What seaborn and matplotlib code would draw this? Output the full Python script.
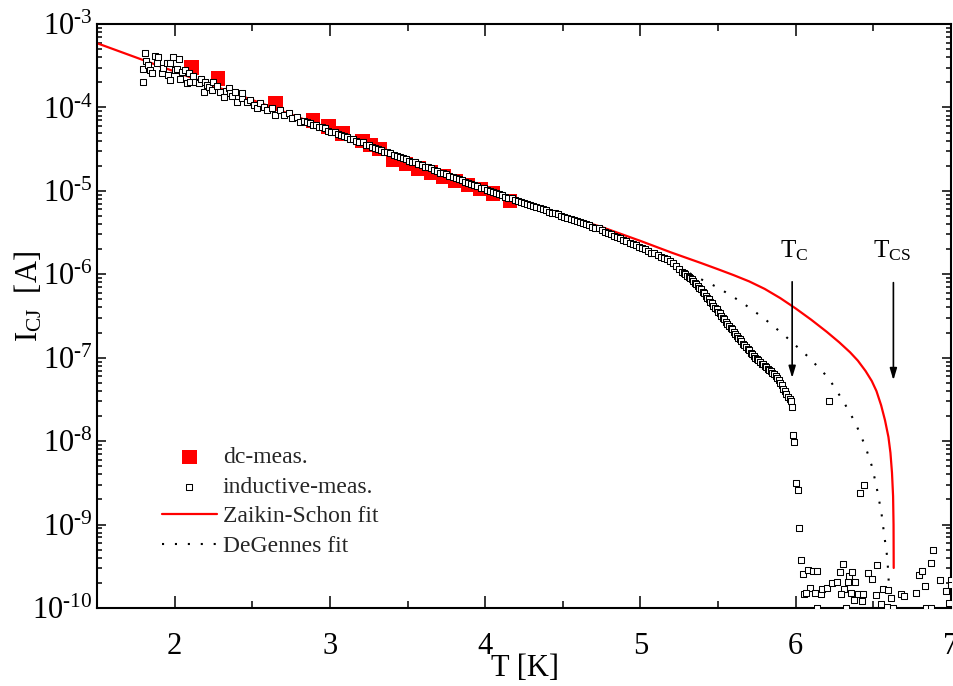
import numpy as np
import matplotlib
matplotlib.use("Agg")
import matplotlib.pyplot as plt
import seaborn as sns
from matplotlib.ticker import LogLocator, MultipleLocator, NullFormatter, FuncFormatter

# ---------------------------------------------------------------- data
# dc transport measurement: temperature [K] and log10 of critical current [A]
dc_T = [2.11, 2.28, 2.65, 2.89, 2.99, 3.08, 3.21, 3.26, 3.32, 3.41, 3.49,
        3.57, 3.65, 3.73, 3.81, 3.89, 3.97, 4.05, 4.16]
dc_logI = [-3.52, -3.65, -3.95, -4.16, -4.23, -4.31, -4.40, -4.45, -4.50,
           -4.63, -4.68, -4.73, -4.78, -4.83, -4.88, -4.93, -4.98, -5.03, -5.12]

# inductive measurement: temperature [K] and log10 of critical current [A]
ind_T = [
    1.799, 1.799, 1.810, 1.816, 1.831, 1.842, 1.853, 1.874, 1.885, 1.896,
    1.917, 1.928, 1.949, 1.960, 1.971, 1.971, 1.992, 2.003, 2.014, 2.025,
    2.035, 2.046, 2.068, 2.079, 2.095, 2.100, 2.120, 2.132, 2.154, 2.170,
    2.186, 2.197, 2.208, 2.220, 2.240, 2.250, 2.270, 2.294, 2.315, 2.330,
    2.347, 2.358, 2.370, 2.390, 2.401, 2.434, 2.434, 2.466, 2.487, 2.508,
    2.530, 2.552, 2.573, 2.595, 2.627, 2.648, 2.681, 2.702, 2.734, 2.756,
    2.788, 2.810,
    2.83, 2.85, 2.87, 2.89, 2.91, 2.93, 2.95, 2.97, 2.99, 3.01,
    3.03, 3.05, 3.07, 3.09, 3.11, 3.13, 3.15, 3.17, 3.19, 3.21,
    3.23, 3.25, 3.27, 3.29, 3.31, 3.33, 3.35, 3.37, 3.39, 3.41,
    3.43, 3.45, 3.47, 3.49, 3.51, 3.53, 3.55, 3.57, 3.59, 3.61,
    3.63, 3.65, 3.67, 3.69, 3.71, 3.73, 3.75, 3.77, 3.79, 3.81,
    3.83, 3.85, 3.87, 3.89, 3.91, 3.93, 3.95, 3.97, 3.99,
    4.01, 4.03, 4.05, 4.07, 4.09, 4.11, 4.13, 4.15, 4.17, 4.19,
    4.21, 4.23, 4.25, 4.27, 4.29, 4.31, 4.33, 4.35, 4.37, 4.39,
    4.41, 4.43, 4.45, 4.47, 4.49, 4.51, 4.53, 4.55, 4.57, 4.59,
    4.61, 4.63, 4.65, 4.67, 4.69, 4.71, 4.73, 4.75, 4.77, 4.79,
    4.81, 4.83, 4.85, 4.87, 4.89, 4.91, 4.93, 4.95, 4.97, 4.99,
    5.01, 5.03, 5.05, 5.07, 5.09, 5.11, 5.13, 5.15, 5.17, 5.19,
    5.21, 5.23, 5.25, 5.27,
    5.28, 5.29, 5.30, 5.31, 5.32, 5.33, 5.34, 5.35, 5.36, 5.37,
    5.38, 5.39, 5.40, 5.41, 5.42, 5.43, 5.44, 5.45, 5.46, 5.47,
    5.48, 5.49, 5.50, 5.51, 5.52, 5.53, 5.54, 5.55, 5.56, 5.57,
    5.58, 5.59, 5.60, 5.61, 5.62, 5.63, 5.64, 5.65, 5.66, 5.67,
    5.68, 5.69, 5.70, 5.71, 5.72, 5.73, 5.74, 5.75, 5.76, 5.77,
    5.78, 5.79, 5.80, 5.81, 5.82, 5.83, 5.84, 5.85, 5.86, 5.87,
    5.88, 5.89, 5.90, 5.91, 5.92, 5.93, 5.94, 5.95, 5.96, 5.97,
    5.975, 5.984, 5.990, 6.003, 6.016, 6.023, 6.035, 6.046, 6.216, 6.416,
    6.442,
    6.079, 6.111, 6.139, 6.094, 6.055, 6.068, 6.126, 6.165, 6.171, 6.203,
    6.234, 6.266, 6.285, 6.306, 6.343, 6.365, 6.337, 6.384, 6.311, 6.294,
    6.358, 6.401, 6.434, 6.375, 6.427, 6.466, 6.494, 6.524, 6.515, 6.563,
    6.595, 6.614, 6.552, 6.588, 6.676, 6.695, 6.775, 6.795, 6.816, 6.868,
    6.887, 6.835, 6.932, 6.965, 6.984, 6.997, 7.000,
    6.139, 6.323, 6.629, 6.840, 6.868,
]
ind_logI = [
    -3.691, -3.543, -3.351, -3.440, -3.491, -3.551, -3.591, -3.384, -3.471, -3.392,
    -3.591, -3.531, -3.464, -3.611, -3.471, -3.671, -3.399, -3.551, -3.543, -3.423,
    -3.663, -3.571, -3.551, -3.711, -3.591, -3.691, -3.620, -3.691, -3.711, -3.660,
    -3.811, -3.691, -3.731, -3.760, -3.791, -3.691, -3.740, -3.811, -3.871, -3.800,
    -3.771, -3.831, -3.860, -3.811, -3.931, -3.891, -3.831, -3.931, -3.911, -3.971,
    -4.011, -3.951, -3.999, -4.031, -4.011, -4.091, -4.031, -4.091, -4.071, -4.131,
    -4.111, -4.171,
    -4.16, -4.17, -4.19, -4.21, -4.21, -4.24, -4.24, -4.25, -4.28, -4.29,
    -4.30, -4.32, -4.33, -4.34, -4.35, -4.38, -4.38, -4.40, -4.42, -4.42,
    -4.45, -4.45, -4.47, -4.49, -4.50, -4.51, -4.53, -4.54, -4.55, -4.57,
    -4.58, -4.60, -4.61, -4.62, -4.64, -4.65, -4.66, -4.68, -4.69, -4.71,
    -4.72, -4.73, -4.75, -4.76, -4.78, -4.79, -4.80, -4.82, -4.83, -4.85,
    -4.86, -4.87, -4.89, -4.90, -4.92, -4.93, -4.94, -4.96, -4.97,
    -4.99, -5.00, -5.01, -5.03, -5.04, -5.05, -5.07, -5.08, -5.09, -5.11,
    -5.12, -5.13, -5.14, -5.16, -5.17, -5.18, -5.19, -5.21, -5.22, -5.23,
    -5.25, -5.26, -5.27, -5.28, -5.30, -5.31, -5.32, -5.34, -5.35, -5.36,
    -5.37, -5.39, -5.40, -5.41, -5.43, -5.44, -5.45, -5.47, -5.49, -5.50,
    -5.52, -5.54, -5.55, -5.57, -5.59, -5.60, -5.62, -5.64, -5.65, -5.67,
    -5.69, -5.70, -5.72, -5.74, -5.75, -5.77, -5.79, -5.80, -5.82, -5.84,
    -5.87, -5.90, -5.94, -5.97,
    -5.99, -6.00, -6.02, -6.03, -6.05, -6.06, -6.08, -6.10, -6.12, -6.14,
    -6.16, -6.18, -6.21, -6.23, -6.26, -6.28, -6.30, -6.33, -6.35, -6.38,
    -6.40, -6.42, -6.45, -6.47, -6.50, -6.52, -6.54, -6.57, -6.59, -6.62,
    -6.64, -6.66, -6.69, -6.71, -6.74, -6.76, -6.78, -6.80, -6.83, -6.85,
    -6.87, -6.89, -6.91, -6.94, -6.96, -6.98, -7.00, -7.01, -7.03, -7.05,
    -7.07, -7.08, -7.10, -7.11, -7.13, -7.15, -7.16, -7.18, -7.19, -7.22,
    -7.24, -7.27, -7.30, -7.33, -7.37, -7.40, -7.44, -7.47, -7.50, -7.52,
    -7.59, -7.93, -8.01, -8.50, -8.59, -9.04, -9.42, -9.59, -7.52, -8.62,
    -8.53,
    -9.544, -9.553, -9.556, -9.760, -9.832, -9.820, -9.820, -9.832, -9.772, -9.760,
    -9.700, -9.688, -9.568, -9.472, -9.616, -9.568, -9.688, -9.688, -9.772, -9.832,
    -9.820, -9.832, -9.832, -9.904, -9.916, -9.580, -9.652, -9.484, -9.844, -9.772,
    -9.784, -9.880, -9.952, -9.988, -9.832, -9.856, -9.820, -9.604, -9.556, -9.460,
    -9.305, -9.736, -9.664, -9.796, -9.940, -9.664, -9.724,
    -10.0, -10.0, -10.0, -10.0, -10.0,
]

# Zaikin-Schon fit curve
zs_T = [1.5, 2.0, 2.5, 3.0, 3.5, 4.0, 4.4, 4.745, 5.0, 5.2, 5.39, 5.5,
        5.6, 5.7, 5.8, 5.9, 6.0, 6.1, 6.2, 6.28, 6.35, 6.4, 6.45, 6.49,
        6.52, 6.55, 6.575, 6.597, 6.61, 6.62, 6.627, 6.630, 6.631]
zs_logI = [-3.23, -3.57, -3.91, -4.26, -4.62, -4.97, -5.24, -5.43, -5.60,
           -5.74, -5.865, -5.94, -6.01, -6.085, -6.175, -6.285, -6.41,
           -6.545, -6.69, -6.815, -6.935, -7.035, -7.16, -7.28, -7.40,
           -7.57, -7.75, -7.95, -8.14, -8.38, -8.66, -9.00, -9.52]

# DeGennes fit curve
dg_T = [5.10, 5.20, 5.281, 5.358, 5.50, 5.648, 5.79, 5.926, 6.081, 6.21,
        6.306, 6.384, 6.448, 6.494, 6.526, 6.552, 6.571, 6.590, 6.603, 6.607]
dg_logI = [-5.76, -5.86, -5.95, -6.03, -6.16, -6.33, -6.52, -6.73, -6.99,
           -7.24, -7.52, -7.78, -8.06, -8.32, -8.60, -8.86, -9.14, -9.40,
           -9.81, -10.0]

# critical temperatures marked with arrows
Tc = 5.977
Tcs = 6.629

# ---------------------------------------------------------------- style
sns.set_theme(style="ticks")
plt.rcParams["font.family"] = ["Liberation Serif", "DejaVu Serif"]
plt.rcParams["mathtext.fontset"] = "custom"
plt.rcParams["mathtext.rm"] = "Liberation Serif"
plt.rcParams["mathtext.it"] = "Liberation Serif:italic"
plt.rcParams["mathtext.bf"] = "Liberation Serif:bold"
plt.rcParams["axes.unicode_minus"] = False

fig = plt.figure(figsize=(9.54, 6.86), dpi=100)
ax = fig.add_axes([97 / 954, 78 / 686, 854 / 954, 584 / 686])
ax.set_facecolor("white")

sns.lineplot(x=zs_T, y=10 ** np.array(zs_logI), ax=ax, color="#ff0000",
             lw=1.6, sort=False, estimator=None, zorder=1,
             label="Zaikin-Schon fit")
sns.lineplot(x=dg_T, y=10 ** np.array(dg_logI), ax=ax, color="black",
             lw=1.5, linestyle=(0, (1, 5.2)), sort=False, estimator=None,
             zorder=1, label="DeGennes fit")
sns.scatterplot(x=dc_T, y=10 ** np.array(dc_logI), ax=ax, marker="s", s=110,
                color="#ff0000", edgecolor="none", linewidth=0, zorder=2,
                label="dc-meas.")
sns.scatterplot(x=ind_T, y=10 ** np.array(ind_logI), ax=ax, marker="s", s=17,
                color="white", edgecolor="black", linewidth=0.75, zorder=3,
                label="inductive-meas.")

ax.set_yscale("log")
ax.set_xlim(1.5, 7)
ax.set_ylim(1e-10, 1e-3)


def decade_label(value, pos):
    exponent = int(round(np.log10(value)))
    return r"$\mathdefault{10^{\text{-}%d}}$" % abs(exponent)


ax.xaxis.set_major_locator(MultipleLocator(1))
ax.xaxis.set_minor_locator(MultipleLocator(0.5))
ax.yaxis.set_major_locator(LogLocator(base=10, numticks=20))
ax.yaxis.set_major_formatter(FuncFormatter(decade_label))
ax.yaxis.set_minor_locator(LogLocator(base=10, subs=np.arange(2, 10), numticks=100))
ax.yaxis.set_minor_formatter(NullFormatter())

ax.tick_params(which="both", direction="in", top=True, right=True,
               color="black", width=1.1, labelcolor="black")
ax.tick_params(axis="x", which="major", length=8.5, pad=17, labelsize=22)
ax.tick_params(axis="x", which="minor", length=5)
ax.tick_params(axis="y", which="major", length=6.5, pad=3, labelsize=22)
ax.tick_params(axis="y", which="minor", length=3.5)
for sp in ax.spines.values():
    sp.set_visible(True)
    sp.set_color("black")
    sp.set_linewidth(1.5)

ax.set_xlabel("T [K]", fontsize=22, color="black")
ax.set_ylabel(r"I$_{\mathrm{CJ}}$  [A]", fontsize=22, color="black")
ax.xaxis.set_label_coords(0.501, -0.078)
ax.yaxis.set_label_coords(-0.061, 0.533)

# arrows marking the two critical temperatures
arrow = dict(arrowstyle="-|>,head_width=0.15,head_length=0.5",
             color="black", lw=1.2, mutation_scale=14, shrinkA=0, shrinkB=0)
ax.annotate("", xy=(Tc, 10 ** -7.243), xytext=(Tc, 10 ** -6.09), arrowprops=arrow)
ax.annotate("", xy=(Tcs, 10 ** -7.27), xytext=(Tcs, 10 ** -6.10), arrowprops=arrow)
ax.text(5.900, 10 ** -5.793, r"T$_{\mathrm{C}}$", fontsize=18, ha="left",
        va="baseline", color="black")
ax.text(6.500, 10 ** -5.793, r"T$_{\mathrm{CS}}$", fontsize=18, ha="left",
        va="baseline", color="black")

handles, labels = ax.get_legend_handles_labels()
lookup = dict(zip(labels, handles))
order = ["dc-meas.", "inductive-meas.", "Zaikin-Schon fit", "DeGennes fit"]
ax.legend([lookup[k] for k in order], order, loc="upper left",
          bbox_to_anchor=(0.076, 0.2765), frameon=False, fontsize=17,
          handlelength=2.33, handletextpad=0.25, labelspacing=0.345,
          borderpad=0, borderaxespad=0)

fig.savefig("out.png", dpi=100)
